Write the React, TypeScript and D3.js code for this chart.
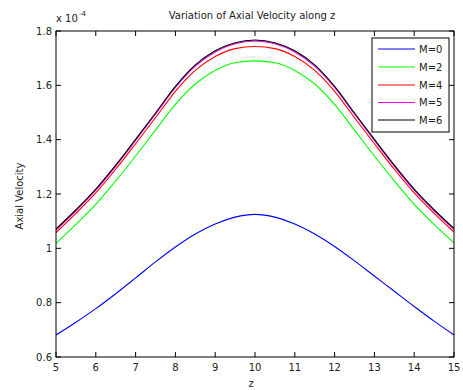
import React from "react";
import * as d3 from "d3";

const zValues = [5, 5.5, 6, 6.5, 7, 7.5, 8, 8.5, 9, 9.5, 10, 10.5, 11, 11.5, 12, 12.5, 13, 13.5, 14, 14.5, 15];
const velM0 = [0.681, 0.728, 0.778, 0.833, 0.891, 0.950, 1.005, 1.053, 1.090, 1.115, 1.125, 1.115, 1.090, 1.053, 1.007, 0.954, 0.898, 0.842, 0.786, 0.732, 0.681];
const velM2 = [1.018, 1.088, 1.162, 1.248, 1.340, 1.435, 1.530, 1.605, 1.655, 1.683, 1.690, 1.683, 1.655, 1.605, 1.530, 1.435, 1.340, 1.248, 1.162, 1.088, 1.020];
const velM4 = [1.058, 1.129, 1.204, 1.291, 1.385, 1.481, 1.578, 1.655, 1.706, 1.735, 1.743, 1.735, 1.706, 1.655, 1.578, 1.481, 1.385, 1.291, 1.204, 1.129, 1.060];
const velM5 = [1.067, 1.138, 1.214, 1.302, 1.397, 1.494, 1.592, 1.671, 1.723, 1.753, 1.763, 1.753, 1.723, 1.671, 1.592, 1.494, 1.397, 1.302, 1.214, 1.138, 1.069];
const velM6 = [1.071, 1.142, 1.218, 1.306, 1.401, 1.498, 1.596, 1.675, 1.727, 1.757, 1.767, 1.757, 1.727, 1.675, 1.596, 1.498, 1.401, 1.306, 1.218, 1.142, 1.073];
const seriesNames = ["M=0", "M=2", "M=4", "M=5", "M=6"];
const seriesColors = ["#0000ff", "#00ff00", "#ff0000", "#ff00ff", "#000000"];
const xTicks = [5, 6, 7, 8, 9, 10, 11, 12, 13, 14, 15];
const yTicks = [0.6, 0.8, 1, 1.2, 1.4, 1.6, 1.8];
const yTickLabels = ["0.6", "0.8", "1", "1.2", "1.4", "1.6", "1.8"];

const FONT = "'DejaVu Sans', Verdana, sans-serif";

export default function App() {
  const W = 463, H = 390;
  const left = 56, right = 454, top = 31, bottom = 357;
  const x = d3.scaleLinear().domain([5, 15]).range([left, right]);
  const y = d3.scaleLinear().domain([0.6, 1.8]).range([bottom, top]);
  const allSeries = [velM0, velM2, velM4, velM5, velM6];
  const line = d3
    .line<number>()
    .x((_, i) => x(zValues[i]))
    .y((d) => y(d))
    .curve(d3.curveMonotoneX);
  const tickLen = 5;
  const legX = 372, legY = 38, legW = 77, legH = 94;
  const legRowY = [49, 67, 85, 102.5, 120];

  return (
    <svg width={W} height={H} style={{ position: "absolute", left: 0, top: 0, background: "#fff" }}>
      <rect x={0} y={0} width={W} height={H} fill="#fff" />
      <text x={252} y={19} textAnchor="middle" fontFamily={FONT} fontSize={10} fill="#222">
        Variation of Axial Velocity along z
      </text>
      <text x={56} y={22} fontFamily={FONT} fontSize={10} fill="#222">
        x 10
      </text>
      <text x={79} y={16} fontFamily={FONT} fontSize={7} fill="#222">
        -4
      </text>
      <defs>
        <clipPath id="clipPlot">
          <rect x={left} y={top} width={right - left} height={bottom - top} />
        </clipPath>
      </defs>
      <g clipPath="url(#clipPlot)">
        {allSeries.map((s, k) => (
          <path key={k} d={line(s) || ""} fill="none" stroke={seriesColors[k]} strokeWidth={1.1} />
        ))}
      </g>
      <rect x={left} y={top} width={right - left} height={bottom - top} fill="none" stroke="#000" strokeWidth={1} />
      {xTicks.map((t) => (
        <g key={"x" + t}>
          <line x1={x(t)} x2={x(t)} y1={bottom} y2={bottom - tickLen} stroke="#000" />
          <line x1={x(t)} x2={x(t)} y1={top} y2={top + tickLen} stroke="#000" />
          <text x={x(t)} y={371} textAnchor="middle" fontFamily={FONT} fontSize={10} fill="#222">
            {t}
          </text>
        </g>
      ))}
      {yTicks.map((t, i) => (
        <g key={"y" + t}>
          <line x1={left} x2={left + tickLen} y1={y(t)} y2={y(t)} stroke="#000" />
          <line x1={right} x2={right - tickLen} y1={y(t)} y2={y(t)} stroke="#000" />
          <text x={52} y={y(t) + 3.5} textAnchor="end" fontFamily={FONT} fontSize={10} fill="#222">
            {yTickLabels[i]}
          </text>
        </g>
      ))}
      <text x={251} y={387} textAnchor="middle" fontFamily={FONT} fontSize={10} fill="#222">
        z
      </text>
      <text
        transform={`translate(23,${(top + bottom) / 2 + 2}) rotate(-90)`}
        textAnchor="middle"
        fontFamily={FONT}
        fontSize={10}
        fill="#222"
      >
        Axial Velocity
      </text>
      <rect x={legX} y={legY} width={legW} height={legH} fill="#fff" stroke="#000" strokeWidth={1} />
      {seriesNames.map((n, k) => (
        <g key={n}>
          <line x1={378} x2={415} y1={legRowY[k]} y2={legRowY[k]} stroke={seriesColors[k]} strokeWidth={1.1} />
          <text x={419} y={legRowY[k] + 3.5} fontFamily={FONT} fontSize={10} fill="#222">
            {n}
          </text>
        </g>
      ))}
    </svg>
  );
}
